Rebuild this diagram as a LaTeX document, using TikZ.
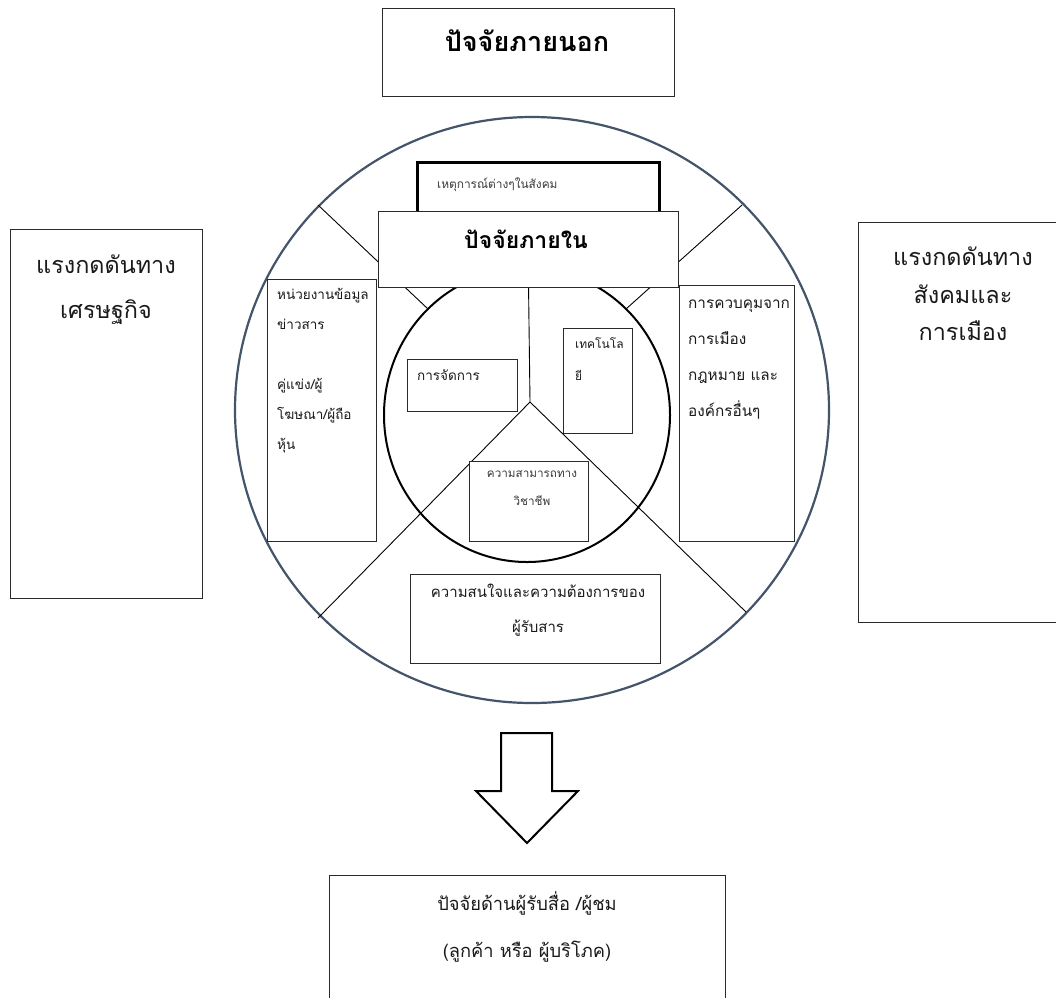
\documentclass[tikz,border=0pt]{standalone}
\usepackage{fontspec}
\newfontfamily\thai[Script=Thai]{Loma}
\definecolor{circ}{HTML}{44546A}
\definecolor{boxc}{HTML}{2A2A2A}
\definecolor{txtc}{HTML}{1A1A1A}
\definecolor{txtg}{HTML}{3A3A3A}
\begin{document}
\begin{tikzpicture}[x=1pt,y=-1pt,
  box/.style={draw=boxc, line width=1.1pt, fill=white, inner sep=0pt, anchor=north west},
  thickbox/.style={box, draw=black, line width=3pt},
  spoke/.style={draw=black, line width=0.9pt},
  big/.style={font=\thai\fontsize{23.4}{27}\selectfont, text=txtc, inner sep=0pt, anchor=base},
  ttl/.style={font=\thai\bfseries\fontsize{27}{31}\selectfont, text=black, inner sep=0pt, anchor=base},
  ttlb/.style={font=\thai\bfseries\fontsize{23}{27}\selectfont, text=black, inner sep=0pt, anchor=base},
  midl/.style={font=\thai\fontsize{13.5}{16}\selectfont, text=txtc, inner sep=0pt, anchor=base west},
  midr/.style={font=\thai\fontsize{15.3}{18}\selectfont, text=txtc, inner sep=0pt, anchor=base west},
  mids/.style={font=\thai\fontsize{13.5}{16}\selectfont, text=txtc, inner sep=0pt, anchor=base west},
  midt/.style={font=\thai\fontsize{12}{14}\selectfont, text=txtc, inner sep=0pt, anchor=base west},
  midc/.style={font=\thai\fontsize{15}{18}\selectfont, text=txtc, inner sep=0pt, anchor=base},
  small/.style={font=\thai\fontsize{11.9}{14}\selectfont, text=txtg, inner sep=0pt, anchor=base west},
  smallc/.style={font=\thai\fontsize{11.7}{14}\selectfont, text=txtg, inner sep=0pt, anchor=base},
  btm/.style={font=\thai\fontsize{18.3}{22}\selectfont, text=txtc, inner sep=0pt, anchor=base}]
\useasboundingbox (0,0) rectangle (1056,997);
\clip (0,0) rectangle (1056,997);
\fill[white] (0,0) rectangle (1056,997);

% big circle and spokes
\draw[circ, line width=2.2pt] (532,410) ellipse [x radius=297pt, y radius=293pt];
\coordinate (ulO) at (318,205); \coordinate (ulI) at (428,309);
\coordinate (urO) at (742,205); \coordinate (urI) at (626,309);
\coordinate (apex) at (530,402);
\coordinate (llO) at (318,618); \coordinate (lrO) at (746,612);
\draw[spoke] (ulO) -- (ulI);
\draw[spoke] (urO) -- (urI);
\draw[black, line width=2pt] (527,415) ellipse [x radius=143pt, y radius=147pt];
\draw[spoke] (apex) -- (llO);
\draw[spoke] (apex) -- (lrO);

% top outer box
\node[box, minimum width=292pt, minimum height=88pt] (outer) at (382,8) {};
\node[ttl] (outerT) at (527,51) {ปัจจัยภายนอก};

% left outer box
\node[box, minimum width=192pt, minimum height=369pt] (econ) at (10,229) {};
\node[big] (econ1) at (106,273) {แรงกดดันทาง};
\node[big] (econ2) at (106,318) {เศรษฐกิจ};

% right outer box
\node[box, minimum width=220pt, minimum height=400pt] (soc) at (858,222) {};
\node[big] (soc1) at (963,265) {แรงกดดันทาง};
\node[big] (soc2) at (963,303) {สังคมและ};
\node[big] (soc3) at (963,340) {การเมือง};

% events box (thick) and inner title
\node[thickbox, minimum width=242pt, minimum height=80pt] (events) at (416,161) {};
\node[small] (eventsT) at (437,188) {เหตุการณ์ต่างๆในสังคม};
\node[box, minimum width=300pt, minimum height=76pt] (inner) at (378,211) {};
\node[ttlb] (innerT) at (526,248) {ปัจจัยภายใน};
\draw[spoke] (inner.south) -- (apex);

% left inner box
\node[box, minimum width=109pt, minimum height=262pt] (info) at (267,279) {};
\node[midl] (info1) at (277,299) {หน่วยงานข้อมูล};
\node[midl] (info2) at (277,329) {ข่าวสาร};
\node[midl] (info3) at (277,389) {คู่แข่ง/ผู้};
\node[midl] (info4) at (277,419) {โฆษณา/ผู้ถือ};
\node[midl] (info5) at (277,449) {หุ้น};

% right inner box
\node[box, minimum width=115pt, minimum height=256pt] (ctrl) at (679,285) {};
\node[midr] (ctrl1) at (688,308) {การควบคุมจาก};
\node[midr] (ctrl2) at (688,344) {การเมือง};
\node[midr] (ctrl3) at (688,380) {กฎหมาย และ};
\node[midr] (ctrl4) at (688,416) {องค์กรอื่นๆ};

% management
\node[box, minimum width=110pt, minimum height=52pt] (mgmt) at (407,359) {};
\node[mids] (mgmtT) at (417,380) {การจัดการ};

% technology
\node[box, minimum width=69pt, minimum height=105pt] (tech) at (563,328) {};
\node[midt] (tech1) at (575,348) {เทคโนโล};
\node[midt] (tech2) at (575,380) {ยี};

% professional ability
\node[box, minimum width=119pt, minimum height=80pt] (prof) at (469,461) {};
\node[smallc] (prof1) at (532,477) {ความสามารถทาง};
\node[smallc] (prof2) at (532,505) {วิชาชีพ};

% audience interest
\node[box, minimum width=250pt, minimum height=89pt] (need) at (410,574) {};
\node[midc] (need1) at (538,597) {ความสนใจและความต้องการของ};
\node[midc] (need2) at (538,632) {ผู้รับสาร};

% block arrow
\draw[black, line width=2pt, fill=white, line join=miter]
  (501,733) -- (552,733) -- (552,791) -- (578,791) -- (527,843) -- (476,791) -- (501,791) -- cycle;

% bottom box
\node[box, minimum width=396pt, minimum height=140pt] (aud) at (329,875) {};
\node[btm] (aud1) at (527,910) {ปัจจัยด้านผู้รับสื่อ /ผู้ชม};
\node[btm] (aud2) at (527,957) {(ลูกค้า หรือ ผู้บริโภค)};
\end{tikzpicture}
\end{document}
